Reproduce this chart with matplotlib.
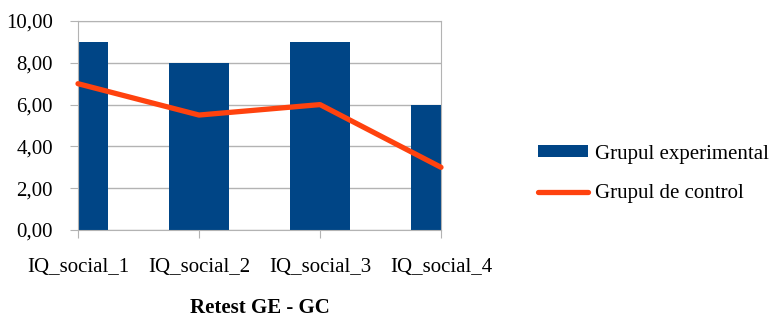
import matplotlib.pyplot as plt
import numpy as np

categories = ['IQ_social_1', 'IQ_social_2', 'IQ_social_3', 'IQ_social_4']
experimental = [9, 8, 9, 6]
control = [7, 5.5, 6, 3]
yticks = [0, 2, 4, 6, 8, 10]

plt.rcParams['font.family'] = ['Liberation Serif', 'DejaVu Serif']

fig = plt.figure(figsize=(7.74, 3.2), dpi=100)
ax = fig.add_axes([78 / 774, 1 - 230 / 320, (441 - 78) / 774, (230 - 21) / 320])

x = np.arange(len(categories))
bars = ax.bar(x, experimental, width=0.5, color='#004586', label='Grupul experimental', zorder=2)
line, = ax.plot(x, control, color='#ff420e', lw=3.8, solid_capstyle='round',
                label='Grupul de control', zorder=3, clip_on=False)

ax.set_xlim(0, 3)
ax.set_ylim(0, 10)
ax.set_yticks(yticks)
ax.set_yticklabels([('%.2f' % v).replace('.', ',') for v in yticks])
ax.set_xticks(x)
ax.set_xticklabels(categories)
ax.yaxis.grid(True, color='#b3b3b3', lw=1, zorder=0)
ax.set_axisbelow(True)
for s in ax.spines.values():
    s.set_color('#b3b3b3')
ax.tick_params(colors='#b3b3b3', labelcolor='black', labelsize=15, length=6)
ax.tick_params(axis='x', pad=14)
ax.tick_params(axis='y', pad=12)
ax.set_xlabel('Retest GE - GC', fontsize=15, fontweight='bold', labelpad=15)

ax.legend(handles=[bars, line], loc='center left', bbox_to_anchor=(528 / 774, 1 - 174 / 320),
          bbox_transform=fig.transFigure, frameon=False, fontsize=15, borderpad=0,
          handlelength=2.4, handleheight=0.5, labelspacing=1.0, handletextpad=0.3)

fig.savefig('out.png', dpi=100)
